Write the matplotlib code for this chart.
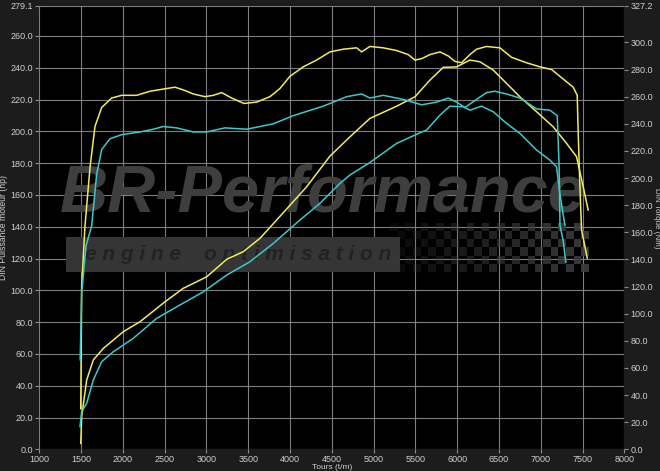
import numpy as np
import matplotlib
matplotlib.use("Agg")
import matplotlib.pyplot as plt
from matplotlib.patches import Rectangle

# --- data ---
# yellow run, torque (Nm, right axis)
rpm_trq_y = [1497, 1508, 1548, 1608, 1667, 1747, 1867, 1987, 2166, 2325, 2525, 2624, 2724,
             2843, 2983, 3083, 3183, 3302, 3449, 3601, 3760, 3880, 3999, 4159, 4319, 4478,
             4637, 4797, 4857, 4956, 5116, 5276, 5415, 5495, 5575, 5674, 5794, 5893, 5973,
             6053, 6152, 6232, 6352, 6511, 6651, 6830, 6990, 7130, 7268, 7388, 7436, 7448,
             7468, 7488, 7556]
trq_y = [30, 120, 165, 208, 238, 252, 259, 261, 261, 264, 266, 267, 265,
         262, 260, 261, 263, 259, 255, 256, 260, 266, 275, 282, 287, 293,
         295, 296, 293, 297, 296, 294, 291, 287, 288, 291, 293, 290, 286,
         285, 291, 295, 297, 296, 289, 285, 282, 280, 273, 267, 261, 233,
         194, 162, 141]

# yellow run, power (hp, left axis)
rpm_pwr_y = [1497, 1508, 1568, 1647, 1767, 2006, 2206, 2505, 2724, 2884, 3003, 3243, 3441,
             3641, 3840, 4199, 4478, 4717, 4956, 5276, 5495, 5674, 5833, 5993, 6152, 6272,
             6431, 6591, 6750, 6950, 7149, 7309, 7428, 7508, 7567]
pwr_y = [3.8, 20.6, 43.6, 56.2, 63.5, 74.0, 80.3, 92.8, 101.3, 105.4, 108.5, 119.5, 124.3,
         132.7, 144.2, 165.1, 184.4, 196.5, 208.1, 215.8, 221.7, 232.2, 240.2, 240.5, 244.8, 243.7,
         238.5, 230.1, 221.7, 212.3, 202.8, 192.4, 184.0, 165.1, 150.5]

# cyan run, torque (Nm, right axis)
rpm_trq_c = [1490, 1508, 1560, 1628, 1688, 1747, 1847, 1987, 2206, 2365, 2484, 2644, 2843,
             3003, 3222, 3482, 3800, 4039, 4398, 4598, 4678, 4857, 4956, 5116, 5355, 5575,
             5754, 5893, 5993, 6092, 6232, 6352, 6451, 6591, 6750, 6950, 7109, 7197, 7220,
             7230, 7268, 7300]
trq_c = [66, 115, 150, 165, 203, 221, 229, 232, 234, 236, 238, 237, 234,
         234, 237, 236, 240, 246, 253, 258, 260, 262, 259, 261, 258, 254,
         256, 259, 256, 252, 258, 263, 264, 262, 259, 251, 250, 246, 208,
         165, 154, 138]

# cyan run, power (hp, left axis)
rpm_pwr_c = [1488, 1508, 1568, 1647, 1747, 1886, 2125, 2405, 2684, 2963, 3243, 3521, 3800,
             4119, 4358, 4598, 4717, 4956, 5276, 5555, 5635, 5794, 5913, 6073, 6152, 6292,
             6431, 6591, 6750, 6950, 7109, 7189, 7228, 7288]
pwr_c = [14.3, 23.7, 29.0, 43.6, 55.1, 61.4, 69.8, 82.4, 90.8, 99.1, 109.6, 118.0, 129.5,
         144.2, 154.7, 167.3, 172.5, 180.4, 192.4, 199.1, 200.8, 210.2, 215.8, 215.4, 213.3, 215.8,
         212.3, 205.0, 198.7, 188.2, 181.9, 177.7, 161.0, 141.0]

x_ticks = list(range(1000, 8001, 500))
hp_ticks = list(range(0, 261, 20)) + [279.1]
nm_ticks = list(range(0, 301, 20)) + [327.2]

yellow = "#f0ec5a"
cyan = "#3cc9c9"
txt_col = "#cfcfcf"
grid_col = "#8c8c8c"

plt.rcParams["font.family"] = ["Liberation Sans", "DejaVu Sans"]

fig = plt.figure(figsize=(6.6, 4.71), dpi=100)
fig.patch.set_facecolor("#1c1c1c")
ax = fig.add_axes([0.0594, 0.0459, 0.8866, 0.9424])
ax.set_facecolor("black")
ax2 = ax.twinx()

ax.set_xlim(1000, 8000)
ax.set_ylim(0, 279.1)
ax2.set_ylim(0, 327.2)

ax.set_xticks(x_ticks)
ax.set_yticks(hp_ticks)
ax.set_yticklabels(["%.1f" % v for v in hp_ticks])
ax2.set_yticks(nm_ticks)
ax2.set_yticklabels(["%.1f" % v for v in nm_ticks])

for a in (ax, ax2):
    for s in a.spines.values():
        s.set_visible(False)
    a.tick_params(colors=grid_col, labelcolor=txt_col, labelsize=6.5, length=3, width=0.8, pad=1.5)
ax.tick_params(axis="x", pad=1.0)

ax.grid(True, color=grid_col, lw=0.8, alpha=0.9)
ax.set_axisbelow(True)

ax.set_xlabel("Tours (t/m)", color=txt_col, fontsize=6.0, va="bottom")
ax.xaxis.set_label_coords(0.5, -0.0478)
ax.set_ylabel("DIN Puissance moteur (hp)", color=txt_col, fontsize=6.2)
ax.yaxis.set_label_coords(-0.053, 0.5)
ax2.set_ylabel("DIN Torque (Nm)", color=txt_col, fontsize=5.8, rotation=-90, va="center")
ax2.yaxis.set_label_coords(1.0545, 0.52)

# watermark
wm = "#3e3e3e"
ax.add_patch(Rectangle((0.046, 0.400), 0.57, 0.079, transform=ax.transAxes,
                       facecolor="#353535", edgecolor="none", zorder=1))
ax.text(0.485, 0.575, "BR-Performance", transform=ax.transAxes, ha="center", va="center",
        fontsize=48, fontweight="bold", style="italic", color=wm, zorder=1)
ax.text(0.078, 0.44, "e n g i n e    o p t i m i s a t i o n", transform=ax.transAxes,
        ha="left", va="center", fontsize=15, fontweight="bold", style="italic",
        color="#222222", zorder=1)
# checkered flag
nr, nc = 6, 26
chk = np.zeros((nr, nc, 4))
for i in range(nr):
    for j in range(nc):
        if (i + j) % 2 == 0:
            chk[i, j] = [0.24, 0.24, 0.24, min(1.0, 0.15 + 0.8 * j / nc)]
ax.imshow(chk, extent=(0.60, 0.94, 0.40, 0.51), transform=ax.transAxes,
          aspect="auto", interpolation="nearest", zorder=1)

ax.plot(rpm_pwr_y, pwr_y, color=yellow, lw=1.1, zorder=3)
ax.plot(rpm_pwr_c, pwr_c, color=cyan, lw=1.1, zorder=3)
ax2.plot(rpm_trq_y, trq_y, color=yellow, lw=1.1)
ax2.plot(rpm_trq_c, trq_c, color=cyan, lw=1.1)

ax.set_xlim(1000, 8000)
ax.set_ylim(0, 279.1)

fig.savefig("out.png", dpi=100, facecolor=fig.get_facecolor())
